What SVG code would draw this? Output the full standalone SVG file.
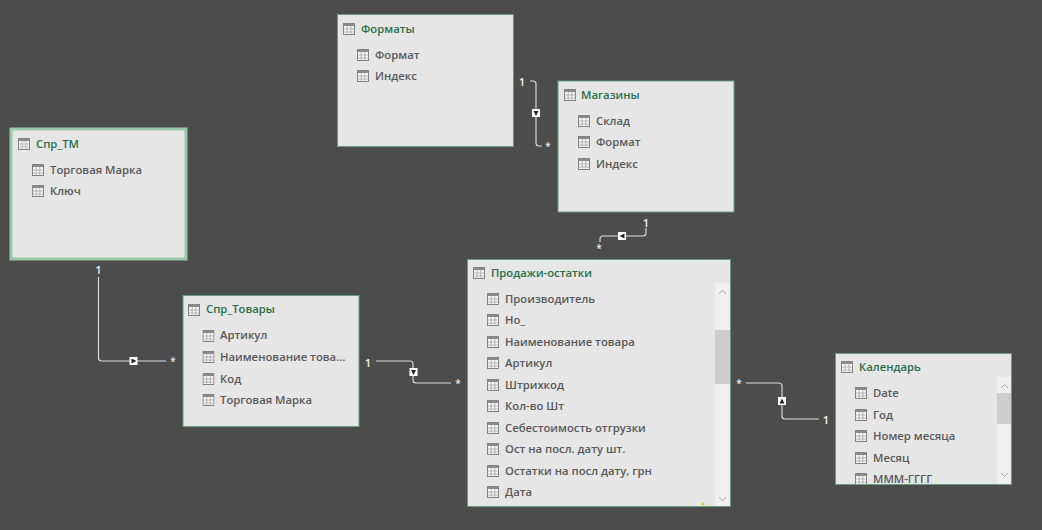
<svg xmlns="http://www.w3.org/2000/svg" width="1042" height="530" viewBox="0 0 1042 530">
<style>
.n{fill:#e6e6e6;stroke:#6a9a80;stroke-width:1}
.sel{fill:#e6e6e6;stroke:#9bc8ab;stroke-width:3}
text{font-family:"Open Sans","Noto Sans","Liberation Sans",sans-serif;font-weight:600}
.t{font-size:11.3px;fill:#2a6e4a}
.f{font-size:11.3px;fill:#595959}
.c{font-size:11.3px;fill:#ededed;text-anchor:middle}
.s{font-size:10px}
.l{fill:none;stroke:#e0e0e0;stroke-width:1.1}
.b{fill:#fff}
.a{fill:#222}
.sb{fill:#f0f0f0}
.th{fill:#cdcdcd}
.ch{fill:none;stroke:#a6a6a6;stroke-width:1}
</style>
<defs>
<symbol id="ic" viewBox="0 0 12 12" width="12" height="12">
<rect x="0.5" y="0.5" width="11" height="11" fill="#f7f7f7" stroke="#7f7f7f"/>
<rect x="0.5" y="0.5" width="11" height="2.5" fill="#8a8a8a"/>
<path d="M0.5 6H11.5M0.5 9H11.5M4.2 3V11.5M7.8 3V11.5" stroke="#a6a6a6" stroke-width="0.8" fill="none"/>
</symbol>
<clipPath id="kc"><rect x="836" y="354" width="175" height="130"/></clipPath>
</defs>
<rect width="1042" height="530" fill="#4c4c4c"/>

<g id="connectors">
<path class="l" d="M530 81H533Q536 81 536 84V143Q536 146 539 146H542"/>
<rect class="b" x="532" y="109" width="8" height="8"/><path class="a" d="M533.500 111H538.500L536 116Z"/>
<text class="c" x="522" y="86">1</text><text class="c s" x="548" y="150">*</text>
<path class="l" d="M646 228V233Q646 236 643 236H603Q600 236 600 239V242"/>
<rect class="b" x="618" y="232" width="8" height="8"/><path class="a" d="M624.500 233.500V238.500L619.500 236Z"/>
<text class="c" x="646" y="227">1</text><text class="c s" x="599" y="252">*</text>
<path class="l" d="M98.500 277V358Q98.500 361 101.500 361H166"/>
<rect class="b" x="129.500" y="357" width="8" height="8"/><path class="a" d="M131.500 358.500V363.500L136.500 361Z"/>
<text class="c" x="98.500" y="274">1</text><text class="c s" x="173" y="365">*</text>
<path class="l" d="M376 361H410Q413 361 413 364V380Q413 383 416 383H451"/>
<rect class="b" x="409.500" y="368" width="8" height="8"/><path class="a" d="M411 370H416L413.500 375Z"/>
<text class="c" x="368" y="367">1</text><text class="c s" x="458" y="387">*</text>
<path class="l" d="M746 383H779Q782 383 782 386V416Q782 419 785 419H819"/>
<rect class="b" x="778" y="397" width="8" height="8"/><path class="a" d="M779.500 403.500H784.500L782 398.500Z"/>
<text class="c s" x="739" y="387">*</text><text class="c" x="826" y="424">1</text>
</g>

<g id="node-formaty">
<rect class="n" x="337.500" y="14.500" width="176" height="132"/>
<use href="#ic" x="343" y="23"/><text class="t" x="361" y="33">Форматы</text>
<use href="#ic" x="357" y="49"/><text class="f" x="375" y="59">Формат</text>
<use href="#ic" x="357" y="70"/><text class="f" x="375" y="80">Индекс</text>
</g>
<g id="node-magaziny">
<rect class="n" x="558" y="81" width="176" height="131"/>
<use href="#ic" x="564" y="89"/><text class="t" x="581" y="99">Магазины</text>
<use href="#ic" x="578" y="115"/><text class="f" x="596" y="125">Склад</text>
<use href="#ic" x="578" y="136"/><text class="f" x="596" y="146">Формат</text>
<use href="#ic" x="578" y="158"/><text class="f" x="596" y="168">Индекс</text>
</g>
<g id="node-spr-tm">
<rect class="sel" x="11" y="129" width="175" height="130"/>
<use href="#ic" x="18" y="138"/><text class="t" x="36" y="148">Спр_ТМ</text>
<use href="#ic" x="32" y="164"/><text class="f" x="50" y="174">Торговая Марка</text>
<use href="#ic" x="32" y="185"/><text class="f" x="50" y="195">Ключ</text>
</g>
<g id="node-spr-tovary">
<rect class="n" x="183" y="295.500" width="176" height="131"/>
<use href="#ic" x="188" y="304"/><text class="t" x="206" y="313">Спр_Товары</text>
<use href="#ic" x="202.500" y="330"/><text class="f" x="220" y="339">Артикул</text>
<use href="#ic" x="202.500" y="351"/><text class="f" x="220" y="361">Наименование това...</text>
<use href="#ic" x="202.500" y="373"/><text class="f" x="220" y="383">Код</text>
<use href="#ic" x="202.500" y="394"/><text class="f" x="220" y="404">Торговая Марка</text>
</g>
<g id="node-prodazhi">
<rect class="n" x="467.500" y="259.500" width="263" height="247"/>
<rect class="sb" x="715" y="283" width="15" height="223"/>
<rect class="th" x="715" y="330" width="15" height="54"/>
<path class="ch" d="M719 294L722.500 290L726 294M719 497L722.500 501L726 497"/>
<path d="M701 505L703 502L705 505Z" fill="#f2c811"/>
<use href="#ic" x="473" y="267"/><text class="t" x="491" y="277">Продажи-остатки</text>
<use href="#ic" x="487" y="293"/><text class="f" x="505" y="303">Производитель</text>
<use href="#ic" x="487" y="314"/><text class="f" x="505" y="324">Но_</text>
<use href="#ic" x="487" y="336"/><text class="f" x="505" y="346">Наименование товара</text>
<use href="#ic" x="487" y="357"/><text class="f" x="505" y="367">Артикул</text>
<use href="#ic" x="487" y="379"/><text class="f" x="505" y="389">Штрихкод</text>
<use href="#ic" x="487" y="400"/><text class="f" x="505" y="410">Кол-во Шт</text>
<use href="#ic" x="487" y="422"/><text class="f" x="505" y="432">Себестоимость отгрузки</text>
<use href="#ic" x="487" y="443"/><text class="f" x="505" y="453">Ост на посл. дату шт.</text>
<use href="#ic" x="487" y="465"/><text class="f" x="505" y="475">Остатки на посл дату, грн</text>
<use href="#ic" x="487" y="486"/><text class="f" x="505" y="496">Дата</text>
</g>
<g id="node-kalendar">
<rect class="n" x="835.500" y="353.500" width="176" height="131"/>
<rect class="sb" x="997" y="377" width="14" height="107"/>
<rect class="th" x="997" y="393" width="14" height="31"/>
<path class="ch" d="M1001 388L1004.500 384.500L1008 388M1001 473L1004.500 476.500L1008 473"/>
<use href="#ic" x="841" y="361"/><text class="t" x="859" y="371">Календарь</text>
<use href="#ic" x="855" y="387"/><text class="f" x="873" y="397">Date</text>
<use href="#ic" x="855" y="409"/><text class="f" x="873" y="419">Год</text>
<use href="#ic" x="855" y="430"/><text class="f" x="873" y="440">Номер месяца</text>
<use href="#ic" x="855" y="452"/><text class="f" x="873" y="462">Месяц</text>
<g clip-path="url(#kc)"><use href="#ic" x="855" y="473"/><text class="f" x="873" y="483">МММ-ГГГГ</text></g>
</g>
</svg>
